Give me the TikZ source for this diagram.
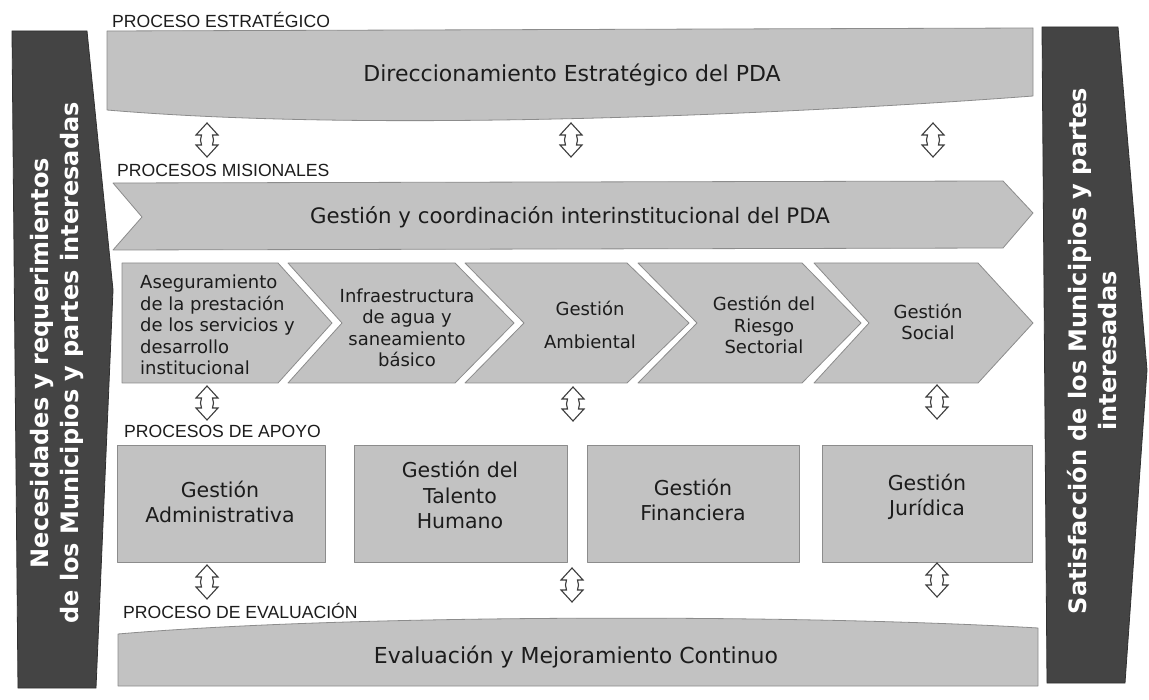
\documentclass[tikz,border=0pt]{standalone}
\usepackage{fontspec}
\setmainfont{DejaVu Sans}
\newfontfamily\labfont{Liberation Sans}
\definecolor{band}{RGB}{194,194,194}
\definecolor{bandedge}{RGB}{140,140,140}
\definecolor{darkbar}{RGB}{68,68,68}
\definecolor{ink}{RGB}{28,28,28}
\definecolor{arrowedge}{RGB}{60,60,60}
\begin{document}
\begin{tikzpicture}[x=1pt,y=-1pt,
  panel/.style={fill=band, draw=bandedge, line width=0.8pt, line join=round},
  sidebar/.style={fill=darkbar, draw=darkbar!70!black, line width=0.8pt},
  lbl/.style={font=\labfont\fontsize{17.6}{18}\selectfont, anchor=base west, text=ink, inner sep=0pt},
  bandtxt/.style={font=\fontsize{22}{26}\selectfont, text=ink, inner sep=0pt, anchor=base},
  chevtxt/.style={font=\fontsize{18}{21.5}\selectfont, text=ink, align=center, inner sep=0pt},
  boxtxt/.style={font=\fontsize{20.5}{25.5}\selectfont, text=ink, align=center, inner sep=0pt},
  bartxt/.style={font=\bfseries\fontsize{24}{30}\selectfont, text=white, align=center, inner sep=0pt, rotate=90},
  arrowshape/.style={fill=white, draw=arrowedge, line width=1.1pt, line join=miter},
  dblarrow/.pic={\path[arrowshape] (0,-17) -- (11,-5) -- (5.5,-5) -- (6.5,0) -- (5.5,5) -- (11,5) -- (0,17) -- (-11,5) -- (-5.5,5) -- (-6.5,0) -- (-5.5,-5) -- (-11,-5) -- cycle;}
]
\useasboundingbox (0,0) rectangle (1149,700);
\fill[white] (0,0) rectangle (1149,700);

% side bars
\path[sidebar] (12,31) -- (87,31) -- (113,290) -- (96,688) -- (18,688) -- cycle;
\path[sidebar] (1042,27) -- (1118,27) -- (1147,370) -- (1125,683) -- (1047,683) -- cycle;
\node[bartxt] (need) at (57,363) {Necesidades y requerimientos\\de los Municipios y partes interesadas};
\node[bartxt] (satis) at (1092,351) {Satisfacción de los Municipios y partes\\interesadas};

% strategic
\node[lbl] (lblE) at (112,28) {PROCESO ESTRATÉGICO};
\path[panel] (107,31) -- (1033,28) -- (1033,96) .. controls (850,110) and (400,135) .. (107,110) -- cycle;
\node[bandtxt] (direc) at (572,82) {Direccionamiento Estratégico del PDA};

\pic at (207,140) {dblarrow};
\pic at (571,140) {dblarrow};
\pic at (933,140) {dblarrow};

% misionales
\node[lbl] (lblM) at (117,177) {PROCESOS MISIONALES};
\path[panel] (113,183) -- (1003,181) -- (1033,213) -- (1003,248) -- (113,250) -- (142,217) -- cycle;
\node[bandtxt, font=\fontsize{21.3}{26}\selectfont] (gestion) at (570,224) {Gestión y coordinación interinstitucional del PDA};

% chevrons
\path[panel] (122,263) -- (278,263) -- (332,323) -- (278,383) -- (122,383) -- cycle;
\path[panel] (288,263) -- (455,263) -- (514,323) -- (455,383) -- (288,383) -- (342,323) -- cycle;
\path[panel] (465,263) -- (627,263) -- (689,323) -- (627,383) -- (465,383) -- (524,323) -- cycle;
\path[panel] (638,263) -- (802,263) -- (861,323) -- (802,383) -- (638,383) -- (697,323) -- cycle;
\path[panel] (814,263) -- (978,263) -- (1033,323) -- (978,383) -- (814,383) -- (869,323) -- cycle;

\node[chevtxt, align=left, anchor=west] (c1) at (140,325) {Aseguramiento\\de la prestación\\de los servicios y\\desarrollo\\institucional};
\node[chevtxt] (c2) at (407,328) {Infraestructura\\de agua y\\saneamiento\\básico};
\node[chevtxt] (c3) at (590,325) {Gestión\\[11pt]Ambiental};
\node[chevtxt] (c4) at (764,325) {Gestión del\\Riesgo\\Sectorial};
\node[chevtxt] (c5) at (928,322) {Gestión\\Social};

\pic at (207,403) {dblarrow};
\pic at (573,404) {dblarrow};
\pic at (937,402) {dblarrow};

% apoyo
\node[lbl] (lblA) at (124,438) {PROCESOS DE APOYO};
\path[panel] (117,445) rectangle (325,562);
\path[panel] (354,445) rectangle (567,562);
\path[panel] (587,445) rectangle (799,562);
\path[panel] (822,445) rectangle (1032,562);
\node[boxtxt] (b1) at (220,502) {Gestión\\Administrativa};
\node[boxtxt] (b2) at (460,495) {Gestión del\\Talento\\Humano};
\node[boxtxt] (b3) at (693,500) {Gestión\\Financiera};
\node[boxtxt] (b4) at (927,497) {Gestión\\Jurídica};

\pic at (207,582) {dblarrow};
\pic at (572,585) {dblarrow};
\pic at (937,580) {dblarrow};

% evaluacion
\node[lbl] (lblV) at (123,618) {PROCESO DE EVALUACIÓN};
\path[panel] (118,634) .. controls (350,614) and (800,614) .. (1038,628) -- (1038,686) -- (118,686) -- cycle;
\node[bandtxt] (eval) at (576,663) {Evaluación y Mejoramiento Continuo};
\end{tikzpicture}
\end{document}
